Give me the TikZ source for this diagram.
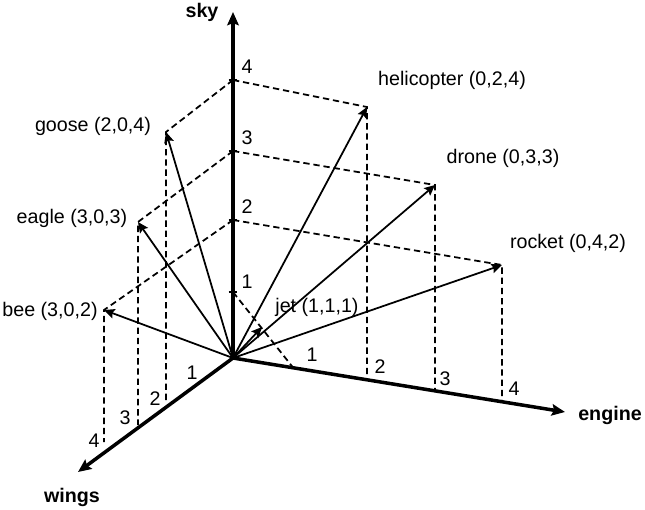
\documentclass[tikz,border=0pt]{standalone}
\usepackage{fontspec}
\setmainfont{Liberation Sans}
\usepackage{tikz}
\usetikzlibrary{arrows.meta,positioning}

\begin{document}
\begin{tikzpicture}[font=\fontsize{11.2}{13}\selectfont]
	\tikzset{axis/.style={line width=2pt,-{Stealth[length=7.5pt,width=6.5pt,inset=1.2pt]}},
		vec/.style={line width=1pt,-{Stealth[length=6pt,width=5.5pt,inset=1pt]}},
		proj/.style={line width=1pt,dash pattern=on 3.6pt off 2.2pt},
		lbl/.style={inner sep=0pt},
		axlbl/.style={inner sep=0pt,font=\fontsize{11.2}{13}\selectfont\bfseries}}
	\useasboundingbox (-4.66,-3.02) rectangle (8.24,7.16);

	%% axes and ticks
	\coordinate (o) at (0,0);
	\coordinate (skytip) at (0,6.92);
	\coordinate (enginetip) at (6.64,-1.08);
	\coordinate (wingstip) at (-3.1,-2.28);
	\coordinate (s1) at (0,1.32);
	\coordinate (s2) at (0,2.76);
	\coordinate (s3) at (0,4.14);
	\coordinate (s4) at (0,5.56);
	\coordinate (e1) at (1.2,-0.19);
	\coordinate (e2) at (2.68,-0.44);
	\coordinate (e3) at (4.04,-0.66);
	\coordinate (e4) at (5.38,-0.87);
	\coordinate (w2) at (-1.34,-0.88);
	\coordinate (w3) at (-1.9,-1.34);
	\coordinate (w4) at (-2.58,-1.68);

	%% vector ends
	\coordinate (heli) at (2.68,5.02);
	\coordinate (drone) at (4.04,3.46);
	\coordinate (rocket) at (5.38,1.86);
	\coordinate (goose) at (-1.34,4.52);
	\coordinate (eagle) at (-1.9,2.72);
	\coordinate (bee) at (-2.58,0.96);
	\coordinate (jet) at (0.58,0.62);

	%% dashed projections
	\draw[proj] (s4) -- (heli) -- (e2);
	\draw[proj] (s3) -- (drone) -- (e3);
	\draw[proj] (s2) -- (rocket) -- (e4);
	\draw[proj] (s4) -- (goose) -- (w2);
	\draw[proj] (s3) -- (eagle) -- (w3);
	\draw[proj] (s2) -- (bee) -- (w4);
	\draw[proj] (s1) -- (e1);

	\path[vec]
		(o) edge (heli)
		(o) edge (drone)
		(o) edge (rocket)
		(o) edge (goose)
		(o) edge (eagle)
		(o) edge (bee)
		(o) edge (jet);

	\path[axis]
		(o) edge (skytip)
		(o) edge (enginetip)
		(o) edge (wingstip);
	\foreach \k in {1,...,4}
		\draw[line width=1pt] ([xshift=-2.5pt]s\k) -- ([xshift=2.5pt]s\k);

	%% axis names
	\node[axlbl] (skylbl) at (-0.62,6.92) {sky};
	\node[axlbl] (enginelbl) at (7.54,-1.14) {engine};
	\node[axlbl] (wingslbl) at (-3.22,-2.78) {wings};

	%% scale numbers
	\node[lbl] (s1lbl) at (0.28,1.52) {1};
	\node[lbl] (s2lbl) at (0.28,3.02) {2};
	\node[lbl] (s3lbl) at (0.28,4.4) {3};
	\node[lbl] (s4lbl) at (0.28,5.82) {4};
	\node[lbl] (e1lbl) at (1.58,0.06) {1};
	\node[lbl] (e2lbl) at (2.94,-0.18) {2};
	\node[lbl] (e3lbl) at (4.24,-0.42) {3};
	\node[lbl] (e4lbl) at (5.62,-0.62) {4};
	\node[lbl] (w1lbl) at (-0.82,-0.3) {1};
	\node[lbl] (w2lbl) at (-1.56,-0.82) {2};
	\node[lbl] (w3lbl) at (-2.16,-1.2) {3};
	\node[lbl] (w4lbl) at (-2.78,-1.66) {4};

	%% vector names
	\node[lbl] (helilbl) at (4.38,5.56) {helicopter (0,2,4)};
	\node[lbl] (dronelbl) at (5.4,4.0) {drone (0,3,3)};
	\node[lbl] (rocketlbl) at (6.7,2.3) {rocket (0,4,2)};
	\node[lbl] (gooselbl) at (-2.8,4.64) {goose (2,0,4)};
	\node[lbl] (eaglelbl) at (-3.22,2.8) {eagle (3,0,3)};
	\node[lbl] (beelbl) at (-3.66,0.94) {bee (3,0,2)};
	\node[lbl] (jetlbl) at (1.68,1.02) {jet (1,1,1)};
\end{tikzpicture}
\end{document}
